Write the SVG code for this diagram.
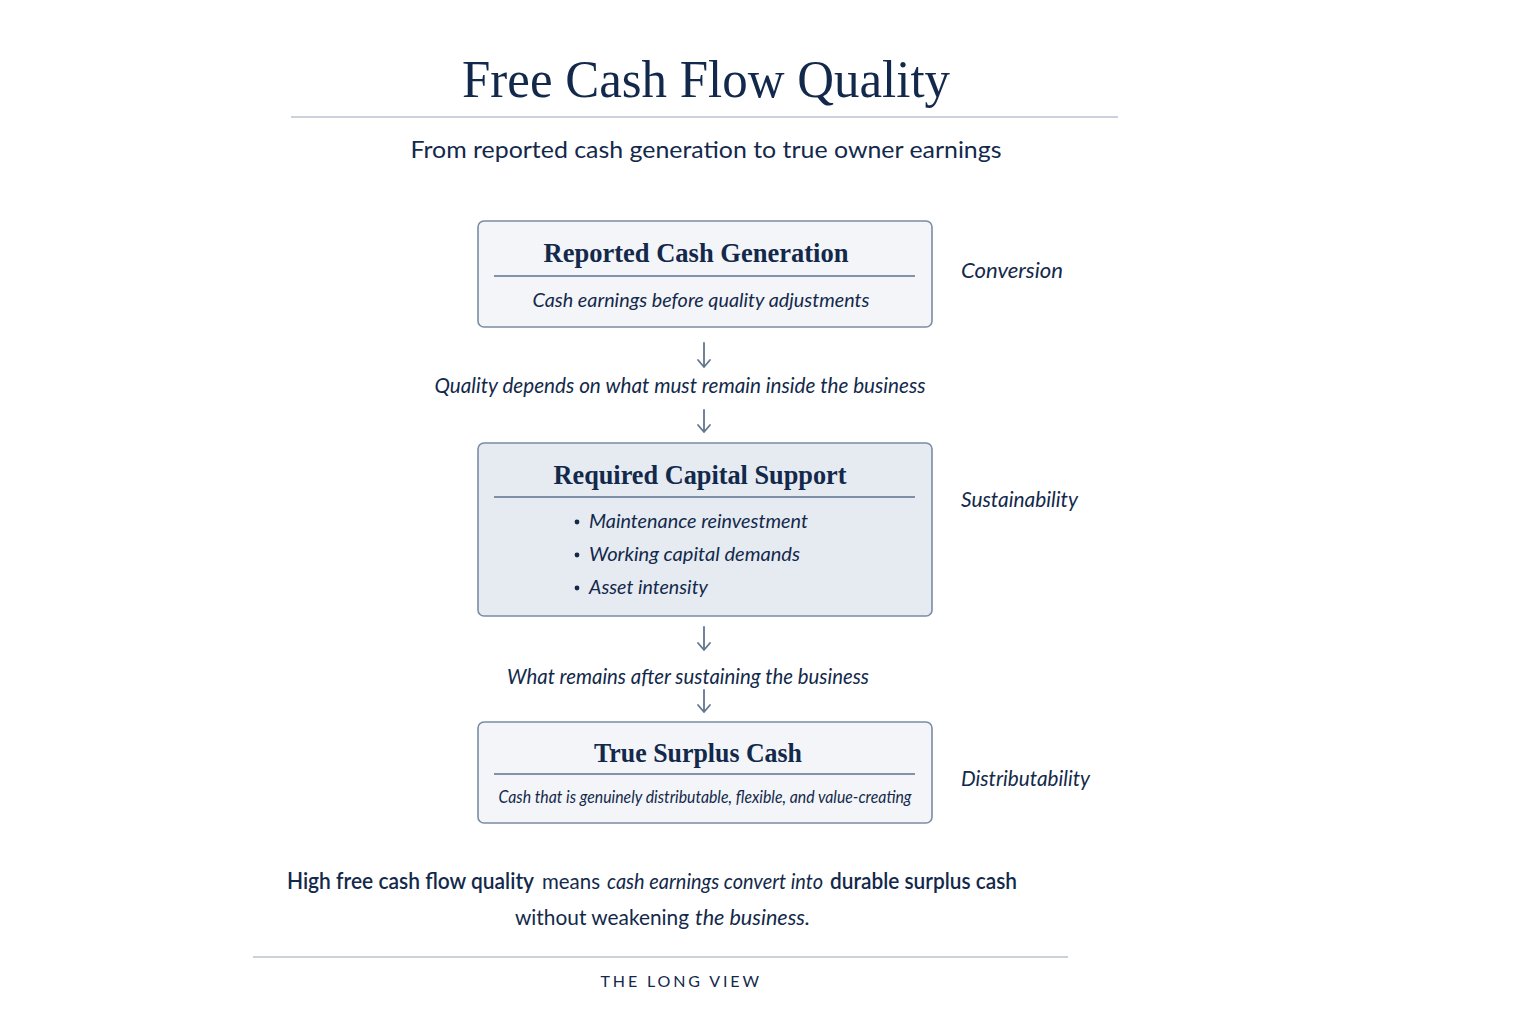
<svg xmlns="http://www.w3.org/2000/svg" width="1536" height="1024" viewBox="0 0 1536 1024">
<defs>
<style>
.serif{font-family:"Liberation Serif","DejaVu Serif",serif;fill:#13294b}
.sans{font-family:Lato,"Noto Sans","Liberation Sans",sans-serif;fill:#13294b}
.it{font-style:italic}
.box{stroke:#7b8ca3;stroke-width:1.6}
.div{stroke:#5d7190;stroke-width:1.4}
.rule{stroke:#b9c3d1;stroke-width:1.3}
.arrow{stroke:#62768f;stroke-width:1.8;fill:none;stroke-linecap:round;stroke-linejoin:round}
.side{font-size:22px}
</style>
</defs>
<rect width="1536" height="1024" fill="#ffffff"/>

<g id="header">
<text class="serif" x="706" y="97" font-size="52" text-anchor="middle" textLength="488" lengthAdjust="spacingAndGlyphs">Free Cash Flow Quality</text>
<line class="rule" x1="291" y1="117" x2="1118" y2="117"/>
<text class="sans" x="706" y="158" font-size="24" text-anchor="middle" textLength="591" lengthAdjust="spacingAndGlyphs">From reported cash generation to true owner earnings</text>
</g>

<g id="node-reported">
<rect class="box" x="478" y="221" width="454" height="106" rx="6" fill="#f3f5f8"/>
<text class="serif" x="696" y="262" font-size="27" font-weight="bold" text-anchor="middle" textLength="305" lengthAdjust="spacingAndGlyphs">Reported Cash Generation</text>
<line class="div" x1="494" y1="276" x2="915" y2="276"/>
<text class="sans it" x="701" y="307" font-size="20" text-anchor="middle" textLength="337" lengthAdjust="spacingAndGlyphs">Cash earnings before quality adjustments</text>
</g>
<text class="sans it side" x="961" y="278" textLength="102" lengthAdjust="spacingAndGlyphs">Conversion</text>

<g id="node-required">
<rect class="box" x="478" y="443" width="454" height="173" rx="6" fill="#e6ebf2"/>
<text class="serif" x="700" y="484" font-size="27" font-weight="bold" text-anchor="middle" textLength="293" lengthAdjust="spacingAndGlyphs">Required Capital Support</text>
<line class="div" x1="494" y1="497" x2="915" y2="497"/>
<circle cx="577" cy="522" r="2.4" fill="#13294b"/>
<text class="sans it" x="589" y="528" font-size="20" textLength="219" lengthAdjust="spacingAndGlyphs">Maintenance reinvestment</text>
<circle cx="577" cy="555" r="2.4" fill="#13294b"/>
<text class="sans it" x="589" y="561" font-size="20" textLength="211" lengthAdjust="spacingAndGlyphs">Working capital demands</text>
<circle cx="577" cy="588" r="2.4" fill="#13294b"/>
<text class="sans it" x="589" y="594" font-size="20" textLength="119" lengthAdjust="spacingAndGlyphs">Asset intensity</text>
</g>
<text class="sans it side" x="961" y="507" textLength="117" lengthAdjust="spacingAndGlyphs">Sustainability</text>

<g id="node-surplus">
<rect class="box" x="478" y="722" width="454" height="101" rx="6" fill="#f3f5f8"/>
<text class="serif" x="698" y="762" font-size="27" font-weight="bold" text-anchor="middle" textLength="208" lengthAdjust="spacingAndGlyphs">True Surplus Cash</text>
<line class="div" x1="494" y1="774" x2="915" y2="774"/>
<text class="sans it" x="705" y="803" font-size="18" text-anchor="middle" textLength="413" lengthAdjust="spacingAndGlyphs">Cash that is genuinely distributable, flexible, and value-creating</text>
</g>
<text class="sans it side" x="961" y="786" textLength="129" lengthAdjust="spacingAndGlyphs">Distributability</text>

<g id="connectors">
<path class="arrow" d="M704 343V367M698 360L704 367L710 360"/>
<text class="sans it" x="680" y="393" font-size="21" text-anchor="middle" textLength="491" lengthAdjust="spacingAndGlyphs">Quality depends on what must remain inside the business</text>
<path class="arrow" d="M704 410V432M698 425L704 432L710 425"/>
<path class="arrow" d="M704 627V650M698 643L704 650L710 643"/>
<text class="sans it" x="688" y="684" font-size="21" text-anchor="middle" textLength="362" lengthAdjust="spacingAndGlyphs">What remains after sustaining the business</text>
<path class="arrow" d="M704 690V712M698 705L704 712L710 705"/>
</g>

<g id="footer">
<text class="sans" x="287" y="889" font-size="22" font-weight="600" textLength="247" lengthAdjust="spacingAndGlyphs">High free cash flow quality</text>
<text class="sans" x="542" y="889" font-size="22" textLength="58" lengthAdjust="spacingAndGlyphs">means</text>
<text class="sans it" x="607" y="889" font-size="22" textLength="216" lengthAdjust="spacingAndGlyphs">cash earnings convert into</text>
<text class="sans" x="830" y="889" font-size="22" font-weight="600" textLength="187" lengthAdjust="spacingAndGlyphs">durable surplus cash</text>
<text class="sans" x="515" y="925" font-size="22" textLength="174" lengthAdjust="spacingAndGlyphs">without weakening</text>
<text class="sans it" x="695" y="925" font-size="22" textLength="115" lengthAdjust="spacingAndGlyphs">the business.</text>
<line class="rule" x1="253" y1="957" x2="1068" y2="957"/>
<text class="sans" x="681" y="987" font-size="16" text-anchor="middle" letter-spacing="2.5" textLength="161" lengthAdjust="spacing">THE LONG VIEW</text>
</g>
</svg>
